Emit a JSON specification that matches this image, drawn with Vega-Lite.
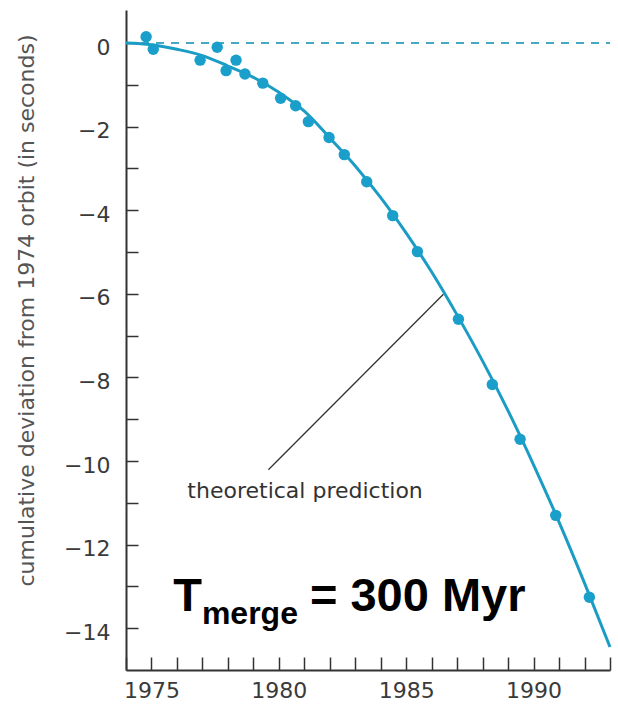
{
  "$schema": "https://vega.github.io/schema/vega-lite/v6.json",
  "width": 484,
  "height": 660,
  "autosize": {"type": "none"},
  "padding": {"left": 126, "top": 10, "right": 8, "bottom": 35},
  "background": "white",
  "config": {"view": {"stroke": null}},
  "datasets": {
    "pulsar": [
      {"year": 1974.79, "dev": 0.15},
      {"year": 1975.07, "dev": -0.15},
      {"year": 1976.91, "dev": -0.41},
      {"year": 1977.58, "dev": -0.10},
      {"year": 1977.93, "dev": -0.66},
      {"year": 1978.32, "dev": -0.41},
      {"year": 1978.67, "dev": -0.74},
      {"year": 1979.37, "dev": -0.96},
      {"year": 1980.07, "dev": -1.32},
      {"year": 1980.66, "dev": -1.50},
      {"year": 1981.16, "dev": -1.88},
      {"year": 1981.97, "dev": -2.26},
      {"year": 1982.57, "dev": -2.67},
      {"year": 1983.45, "dev": -3.32},
      {"year": 1984.47, "dev": -4.13},
      {"year": 1985.44, "dev": -4.99},
      {"year": 1987.05, "dev": -6.61},
      {"year": 1988.38, "dev": -8.17},
      {"year": 1989.47, "dev": -9.48},
      {"year": 1990.87, "dev": -11.30},
      {"year": 1992.19, "dev": -13.26}
    ],
    "theory": [
      {"year": 1974.0, "dev": 0.0},
      {"year": 1975.0, "dev": -0.04},
      {"year": 1976.0, "dev": -0.15},
      {"year": 1977.0, "dev": -0.30},
      {"year": 1978.0, "dev": -0.55},
      {"year": 1979.0, "dev": -0.82},
      {"year": 1980.0, "dev": -1.18},
      {"year": 1981.0, "dev": -1.63},
      {"year": 1982.0, "dev": -2.27},
      {"year": 1983.0, "dev": -2.94},
      {"year": 1984.0, "dev": -3.70},
      {"year": 1985.0, "dev": -4.55},
      {"year": 1986.0, "dev": -5.48},
      {"year": 1987.0, "dev": -6.51},
      {"year": 1988.0, "dev": -7.61},
      {"year": 1989.0, "dev": -8.80},
      {"year": 1990.0, "dev": -10.09},
      {"year": 1991.0, "dev": -11.46},
      {"year": 1992.0, "dev": -12.92},
      {"year": 1993.0, "dev": -14.45}
    ]
  },
  "layer": [
    {
      "data": {"values": [{"x1": 1974, "x2": 1993, "y": 0}]},
      "mark": {"type": "rule", "stroke": "#45a9c4", "strokeWidth": 2, "strokeDash": [8, 7]},
      "encoding": {
        "x": {"field": "x1", "type": "quantitative", "scale": {"domain": [1974, 1993], "nice": false, "zero": false},
          "axis": {"values": [1974,1975,1976,1977,1978,1979,1980,1981,1982,1983,1984,1985,1986,1987,1988,1989,1990,1991,1992,1993],
            "tickCount": 40,
            "labelExpr": "datum.value % 5 == 0 ? datum.label : ''", "format": "d", "title": null, "grid": false,
            "labelOverlap": false, "labelBound": false,
            "tickSize": -13, "tickColor": "#333", "tickWidth": 1.5, "domainColor": "#333", "domainWidth": 2,
            "labelFont": "DejaVu Sans", "labelFontSize": 22, "labelColor": "#3a3a3a", "labelPadding": 23, "labelFlush": false}},
        "x2": {"field": "x2"},
        "y": {"field": "y", "type": "quantitative", "scale": {"domain": [-15, 0.79], "nice": false, "zero": false},
          "axis": {"values": [-14,-13,-12,-11,-10,-9,-8,-7,-6,-5,-4,-3,-2,-1,0],
            "tickCount": 40, "format": "d",
            "labelExpr": "datum.value % 2 == 0 ? datum.label : ''",
            "labelOverlap": false, "labelBound": false,
            "title": "cumulative deviation from 1974 orbit (in seconds)", "grid": false,
            "tickSize": -12, "tickColor": "#333", "tickWidth": 1.5, "domainColor": "#333", "domainWidth": 2,
            "labelFont": "DejaVu Sans", "labelFontSize": 22, "labelColor": "#3a3a3a", "labelPadding": 28, "labelOffset": 4,
            "titleFont": "DejaVu Sans", "titleFontSize": 22, "titleFontWeight": "normal", "titleColor": "#555",
            "titleX": -100, "titleY": 300, "titleBaseline": "middle", "titleAlign": "center", "titleAngle": -90}}
      }
    },
    {
      "data": {"name": "theory"},
      "mark": {"type": "line", "stroke": "#1b9cc4", "strokeWidth": 3, "interpolate": "monotone"},
      "encoding": {
        "x": {"field": "year", "type": "quantitative"},
        "y": {"field": "dev", "type": "quantitative"}
      }
    },
    {
      "data": {"name": "pulsar"},
      "mark": {"type": "circle", "color": "#1a9fcb", "opacity": 1, "size": 130},
      "encoding": {
        "x": {"field": "year", "type": "quantitative"},
        "y": {"field": "dev", "type": "quantitative"}
      }
    },
    {
      "data": {"values": [{"x1": 1986.46, "y1": -6.01, "x2": 1979.59, "y2": -10.21}]},
      "mark": {"type": "rule", "stroke": "#333", "strokeWidth": 1.3},
      "encoding": {
        "x": {"field": "x1", "type": "quantitative"},
        "y": {"field": "y1", "type": "quantitative"},
        "x2": {"field": "x2"},
        "y2": {"field": "y2"}
      }
    },
    {
      "data": {"values": [{"x": 1981.03, "y": -10.88, "label": "theoretical prediction"}]},
      "mark": {"type": "text", "font": "DejaVu Sans", "fontSize": 22, "color": "#333", "align": "center", "baseline": "alphabetic"},
      "encoding": {
        "x": {"field": "x", "type": "quantitative"},
        "y": {"field": "y", "type": "quantitative"},
        "text": {"field": "label"}
      }
    },
    {
      "data": {"values": [{"x": 1975.85, "y": -13.6, "label": "T"}]},
      "mark": {"type": "text", "font": "Liberation Sans", "fontWeight": "bold", "fontSize": 47, "color": "black", "align": "left", "baseline": "alphabetic"},
      "encoding": {
        "x": {"field": "x", "type": "quantitative"},
        "y": {"field": "y", "type": "quantitative"},
        "text": {"field": "label"}
      }
    },
    {
      "data": {"values": [{"x": 1976.98, "y": -13.89, "label": "merge"}]},
      "mark": {"type": "text", "font": "Liberation Sans", "fontWeight": "bold", "fontSize": 32, "color": "black", "align": "left", "baseline": "alphabetic"},
      "encoding": {
        "x": {"field": "x", "type": "quantitative"},
        "y": {"field": "y", "type": "quantitative"},
        "text": {"field": "label"}
      }
    },
    {
      "data": {"values": [{"x": 1981.22, "y": -13.6, "label": "= 300 Myr"}]},
      "mark": {"type": "text", "font": "Liberation Sans", "fontWeight": "bold", "fontSize": 47, "color": "black", "align": "left", "baseline": "alphabetic"},
      "encoding": {
        "x": {"field": "x", "type": "quantitative"},
        "y": {"field": "y", "type": "quantitative"},
        "text": {"field": "label"}
      }
    }
  ]
}
